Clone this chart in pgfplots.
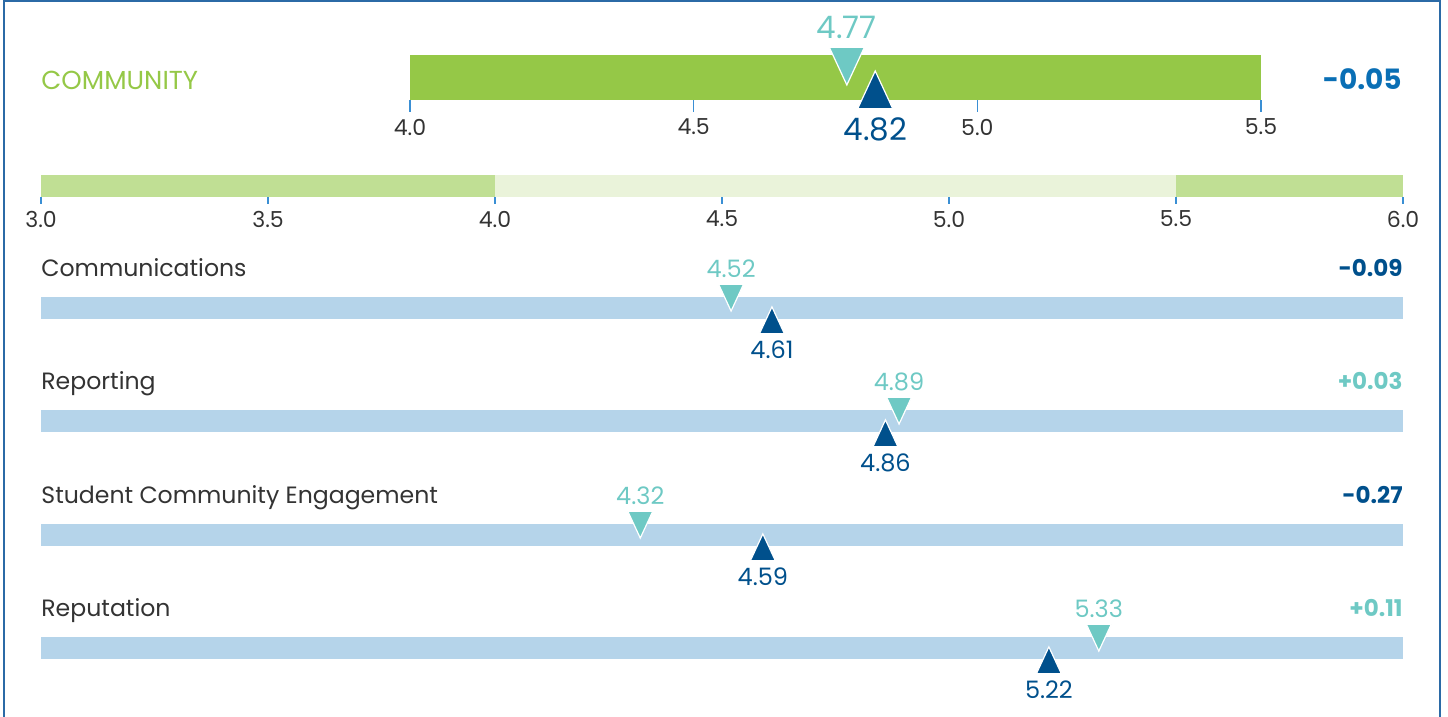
\documentclass[border=0pt]{standalone}
\usepackage{fontspec}
\setmainfont{Poppins}
\usepackage{pgfplots}
\pgfplotsset{compat=1.18}

\definecolor{cgreen}{HTML}{95C847}
\definecolor{clight}{HTML}{C0DF94}
\definecolor{cpale}{HTML}{EAF3DA}
\definecolor{crow}{HTML}{B5D4EA}
\definecolor{cteal}{HTML}{6EC9C4}
\definecolor{cdark}{HTML}{00508C}
\definecolor{cblue}{HTML}{0A6FB5}
\definecolor{ctick}{HTML}{3A8FD4}
\definecolor{cgray}{HTML}{333333}
\definecolor{cframe}{HTML}{2B6AA6}

% triangles with the apex at the data point
\pgfdeclareplotmark{tdown}{%
  \pgfpathmoveto{\pgfpointorigin}%
  \pgfpathlineto{\pgfpoint{-\pgfplotmarksize}{2.15\pgfplotmarksize}}%
  \pgfpathlineto{\pgfpoint{\pgfplotmarksize}{2.15\pgfplotmarksize}}%
  \pgfpathclose
  \pgfusepathqfillstroke}
\pgfdeclareplotmark{tup}{%
  \pgfpathmoveto{\pgfpointorigin}%
  \pgfpathlineto{\pgfpoint{-\pgfplotmarksize}{-2.15\pgfplotmarksize}}%
  \pgfpathlineto{\pgfpoint{\pgfplotmarksize}{-2.15\pgfplotmarksize}}%
  \pgfpathclose
  \pgfusepathqfillstroke}

\pgfplotsset{
  rowaxis/.style={scale only axis, anchor=south west, width=681pt, height=11pt,
    xmin=3, xmax=6, ymin=0, ymax=1, axis line style={draw=none},
    xtick=\empty, ytick=\empty, clip=false},
  prev/.style={only marks, mark=tdown, mark size=6.25pt,
    mark options={fill=cteal, draw=white, line width=0.6pt},
    nodes near coords, point meta=explicit symbolic,
    every node near coord/.style={anchor=base, yshift=17pt, text=cteal,
      font=\fontsize{12}{14}\selectfont}},
  curr/.style={only marks, mark=tup, mark size=6.25pt,
    mark options={fill=cdark, draw=white, line width=0.6pt},
    nodes near coords, point meta=explicit symbolic,
    every node near coord/.style={anchor=base, yshift=-26pt, text=cdark,
      font=\fontsize{12}{14}\selectfont}},
}
\tikzset{
  rowname/.style={anchor=base west, inner sep=0pt, yshift=10pt, text=cgray,
    font=\fontsize{11.8}{14}\selectfont},
  rowdiff/.style={anchor=base east, inner sep=0pt, yshift=10pt,
    font=\fontsize{11.5}{13}\selectfont\bfseries},
}

\begin{document}
\begin{tikzpicture}
\path[use as bounding box] (0,0) rectangle (724pt,358.5pt);
\draw[cframe, line width=1pt] (2pt,-1pt) -- (2pt,358pt) -- (720pt,358pt) -- (720pt,-1pt);

\node[anchor=base west, inner sep=0pt, text=cgreen, font=\fontsize{13}{15}\selectfont]
  at (20.5pt,313.5pt) {COMMUNITY};
\node[anchor=base east, inner sep=0pt, text=cblue, font=\fontsize{14}{16}\selectfont\bfseries]
  at (701pt,313.5pt) {-0.05};

% overall score
\begin{axis}[scale only axis, anchor=south west, at={(205pt,308.5pt)},
  width=425.5pt, height=22.5pt, xmin=4, xmax=5.5, ymin=0, ymax=1,
  axis line style={draw=none}, ytick=\empty, clip=false,
  xtick={4,4.5,5,5.5}, xticklabels={4.0,4.5,5.0,5.5},
  xtick pos=bottom, tick align=outside, major tick length=6pt,
  tick style={ctick, line width=0.6pt},
  xticklabel style={text=cgray, font=\fontsize{11}{13}\selectfont}]
\addplot[fill=cgreen, draw=none] coordinates {(4,1) (5.5,1)} \closedcycle;
\addplot[prev, mark size=8.75pt,
  every node near coord/.style={anchor=base, yshift=23.5pt, text=cteal,
    font=\fontsize{15.5}{17}\selectfont}]
  coordinates {(4.77,0.333) [4.77]};
\addplot[curr, mark size=8.75pt,
  every node near coord/.style={anchor=base, yshift=-34.5pt, text=cdark,
    font=\fontsize{15.5}{17}\selectfont}]
  coordinates {(4.82,0.644) [4.82]};
\end{axis}

% scale
\begin{axis}[scale only axis, anchor=south west, at={(20.5pt,260pt)},
  width=681pt, height=11pt, xmin=3, xmax=6, ymin=0, ymax=1,
  axis line style={draw=none}, ytick=\empty, clip=false,
  xtick={3,3.5,4,4.5,5,5.5,6}, xticklabels={3.0,3.5,4.0,4.5,5.0,5.5,6.0},
  xtick pos=bottom, tick align=outside, major tick length=3.5pt,
  tick style={ctick, line width=0.6pt},
  xticklabel style={text=cgray, font=\fontsize{11}{13}\selectfont}]
\addplot[fill=clight, draw=none] coordinates {(3,1) (4,1)} \closedcycle;
\addplot[fill=cpale, draw=none] coordinates {(4,1) (5.5,1)} \closedcycle;
\addplot[fill=clight, draw=none] coordinates {(5.5,1) (6,1)} \closedcycle;
\end{axis}

% Communications
\begin{axis}[rowaxis, at={(20.5pt,199pt)}]
\addplot[fill=crow, draw=none] coordinates {(3,1) (6,1)} \closedcycle;
\addplot[prev] coordinates {(4.52,0.36) [4.52]};
\addplot[curr] coordinates {(4.61,0.55) [4.61]};
\node[rowname] at (rel axis cs:0,1) {Communications};
\node[rowdiff, text=cdark] at (rel axis cs:1,1) {-0.09};
\end{axis}

% Reporting
\begin{axis}[rowaxis, at={(20.5pt,142.5pt)}]
\addplot[fill=crow, draw=none] coordinates {(3,1) (6,1)} \closedcycle;
\addplot[prev] coordinates {(4.89,0.36) [4.89]};
\addplot[curr] coordinates {(4.86,0.55) [4.86]};
\node[rowname] at (rel axis cs:0,1) {Reporting};
\node[rowdiff, text=cteal] at (rel axis cs:1,1) {+0.03};
\end{axis}

% Student Community Engagement
\begin{axis}[rowaxis, at={(20.5pt,85.5pt)}]
\addplot[fill=crow, draw=none] coordinates {(3,1) (6,1)} \closedcycle;
\addplot[prev] coordinates {(4.32,0.36) [4.32]};
\addplot[curr] coordinates {(4.59,0.55) [4.59]};
\node[rowname] at (rel axis cs:0,1) {Student Community Engagement};
\node[rowdiff, text=cdark] at (rel axis cs:1,1) {-0.27};
\end{axis}

% Reputation
\begin{axis}[rowaxis, at={(20.5pt,29pt)}]
\addplot[fill=crow, draw=none] coordinates {(3,1) (6,1)} \closedcycle;
\addplot[prev] coordinates {(5.33,0.36) [5.33]};
\addplot[curr] coordinates {(5.22,0.55) [5.22]};
\node[rowname] at (rel axis cs:0,1) {Reputation};
\node[rowdiff, text=cteal] at (rel axis cs:1,1) {+0.11};
\end{axis}
\end{tikzpicture}
\end{document}
